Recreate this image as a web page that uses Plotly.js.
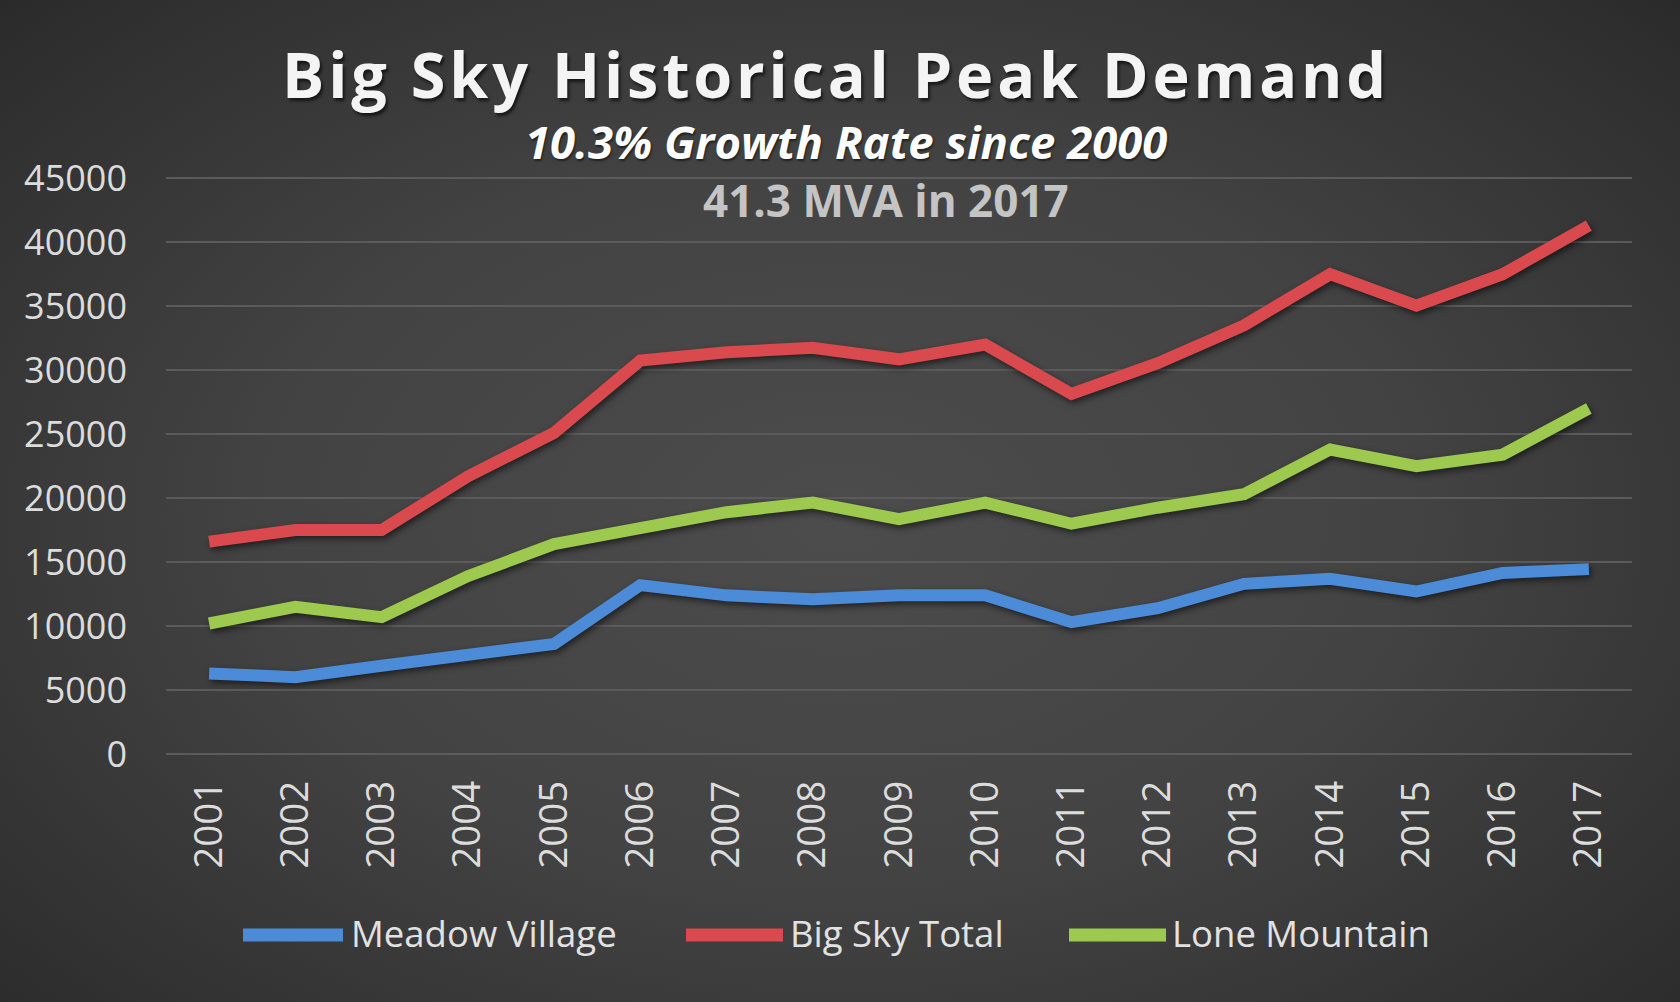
<!DOCTYPE html>
<html>
<head>
<meta charset="utf-8">
<script src="https://cdn.plot.ly/plotly-3.0.1.min.js"></script>
<style>
  html, body { margin: 0; padding: 0; width: 1680px; height: 1002px; overflow: hidden; }
  body { background: radial-gradient(ellipse 75% 80% at 50% 52%, #4c4c4c 0%, #434343 45%, #2f2f2f 85%, #262626 100%); }
  #chart { width: 1680px; height: 1002px; }
  .gtitle { letter-spacing: 3.8px; }
  .scatterlayer { filter: drop-shadow(2px 3px 3px rgba(0,0,0,0.55)); }
</style>
</head>
<body>
<div id="chart"></div>
<script>
// ---- Data ----
const years = ['2001','2002','2003','2004','2005','2006','2007','2008','2009','2010','2011','2012','2013','2014','2015','2016','2017'];
const seriesNames = ['Meadow Village', 'Big Sky Total', 'Lone Mountain'];
const meadowVillage = [6300, 6000, 6900, 7700, 8600, 13200, 12400, 12100, 12400, 12400, 10300, 11400, 13300, 13700, 12700, 14150, 14450];
const bigSkyTotal   = [16600, 17500, 17500, 21700, 25100, 30750, 31400, 31750, 30850, 32000, 28150, 30550, 33500, 37500, 35050, 37500, 41300];
const loneMountain  = [10200, 11500, 10700, 13900, 16400, 17600, 18900, 19650, 18350, 19650, 18000, 19250, 20300, 23800, 22500, 23400, 27000];
const yTicks = [0, 5000, 10000, 15000, 20000, 25000, 30000, 35000, 40000, 45000];
const titleText = 'Big Sky Historical Peak Demand';
const subtitleText = '10.3% Growth Rate since 2000';
const noteText = '41.3 MVA in 2017';

// ---- Styles ----
const colors = ['#4b8bd8', '#d9494e', '#9dc94e'];
const values = [meadowVillage, bigSkyTotal, loneMountain];
const FONT = 'Open Sans, Noto Sans, sans-serif';
const W = 1680, H = 1002;
const L = 166, R = 1632, T = 177, B = 754;
const px2x = px => (px - L) / (R - L);
const py2y = py => (B - py) / (B - T);

const traces = seriesNames.map((n, i) => ({
  type: 'scatter', mode: 'lines', name: n,
  x: years, y: values[i],
  line: { color: colors[i], width: 12, shape: 'linear' },
  hoverinfo: 'skip'
}));

// custom legend (long thick line samples)
const legendPos = [
  { x0: 243, x1: 343, tx: 349 },
  { x0: 686, x1: 783, tx: 788 },
  { x0: 1069, x1: 1166, tx: 1170 }
];
const legY = 935;
const shapes = legendPos.map((p, i) => ({
  type: 'line', xref: 'paper', yref: 'paper',
  x0: px2x(p.x0), x1: px2x(p.x1), y0: py2y(legY), y1: py2y(legY),
  line: { color: colors[i], width: 13 }
}));
const annotations = legendPos.map((p, i) => ({
  xref: 'paper', yref: 'paper', x: px2x(p.tx), y: py2y(legY - 2),
  xanchor: 'left', yanchor: 'middle', showarrow: false,
  text: seriesNames[i],
  font: { family: FONT, size: 36.5, color: '#e2e2e2' }
}));
annotations.push({
  xref: 'paper', yref: 'paper', x: px2x(846), y: py2y(141),
  xanchor: 'center', yanchor: 'middle', showarrow: false,
  text: '<i>' + subtitleText + '</i>',
  font: { family: FONT, size: 45.5, color: '#ffffff', weight: 'bold', shadow: '1px 2px 2px rgba(0,0,0,0.5)' }
});
annotations.push({
  xref: 'paper', yref: 'paper', x: px2x(886), y: py2y(200),
  xanchor: 'center', yanchor: 'middle', showarrow: false,
  text: noteText,
  font: { family: FONT, size: 44, color: '#c4c4c4', weight: 'bold' }
});

const layout = {
  width: W, height: H,
  paper_bgcolor: 'rgba(0,0,0,0)', plot_bgcolor: 'rgba(0,0,0,0)',
  margin: { l: L, r: W - R, t: T, b: H - B, pad: 0 },
  showlegend: false,
  title: {
    text: titleText,
    x: 836 / W, xref: 'container', xanchor: 'center',
    y: 1 - 76 / H, yref: 'container', yanchor: 'middle',
    font: { family: FONT, size: 63, color: '#f4f4f4', weight: 'bold', shadow: '2px 3px 3px rgba(0,0,0,0.6)' }
  },
  xaxis: {
    type: 'category', range: [-0.5, 16.5],
    showgrid: false, zeroline: false, showline: false, ticks: '',
    tickangle: -90, ticklabelstandoff: 18,
    tickfont: { family: FONT, size: 38.5, color: '#dcdcdc' }
  },
  yaxis: {
    range: [0, 45100], tickvals: yTicks, tickformat: 'd',
    showgrid: true, gridcolor: '#5b5b5b', gridwidth: 2,
    zeroline: true, zerolinecolor: '#5b5b5b', zerolinewidth: 2,
    showline: false, ticks: '', ticklabelstandoff: 38,
    tickfont: { family: FONT, size: 36, color: '#dcdcdc' }
  },
  shapes: shapes,
  annotations: annotations
};

Plotly.newPlot('chart', traces, layout, { staticPlot: true, displayModeBar: false });
</script>
</body>
</html>
